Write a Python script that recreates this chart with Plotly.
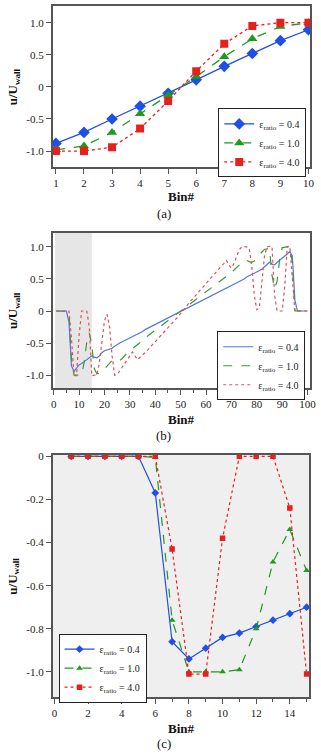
import plotly.graph_objects as go

W, H = 321, 755

# ---------------- data ----------------
bins_a = list(range(1, 11))
a_04 = [-0.88, -0.71, -0.50, -0.30, -0.10, 0.11, 0.32, 0.52, 0.72, 0.89]
a_10 = [-0.98, -0.92, -0.71, -0.42, -0.13, 0.16, 0.47, 0.75, 0.94, 1.0]
a_40 = [-1.0, -1.0, -0.94, -0.65, -0.22, 0.245, 0.67, 0.95, 1.0, 1.0]

bins_b = list(range(1, 101))
b_04 = [0, 0, 0, 0, 0, -0.17, -0.86, -0.94, -0.89, -0.84,
        -0.82, -0.79, -0.76, -0.73, -0.70, -0.72, -0.73, -0.70, -0.65, -0.62,
        -0.61, -0.60, -0.58, -0.55, -0.52, -0.50, -0.48, -0.46, -0.44, -0.42,
        -0.41, -0.39, -0.37, -0.35, -0.32, -0.29, -0.27, -0.25, -0.23, -0.21,
        -0.19, -0.17, -0.15, -0.13, -0.11, -0.09, -0.07, -0.05, -0.03, -0.01,
        0.01, 0.03, 0.05, 0.07, 0.09, 0.11, 0.13, 0.15, 0.17, 0.19,
        0.21, 0.23, 0.25, 0.27, 0.29, 0.32, 0.34, 0.36, 0.38, 0.40,
        0.42, 0.44, 0.46, 0.48, 0.50, 0.53, 0.55, 0.57, 0.59, 0.61,
        0.62, 0.65, 0.69, 0.72, 0.76, 0.73, 0.72, 0.76, 0.79, 0.82,
        0.85, 0.89, 0.93, 0.86, 0.17, 0, 0, 0, 0, 0]
b_10 = [0, 0, 0, 0, 0, -0.005, -0.76, -1.0, -1.0, -1.0,
        -0.99, -0.80, -0.49, -0.34, -0.53, -0.90, -0.98, -0.97, -0.94, -0.90,
        -0.86, -0.81, -0.77, -0.75, -0.76, -0.77, -0.74, -0.69, -0.65, -0.62,
        -0.59, -0.56, -0.53, -0.49, -0.46, -0.42, -0.39, -0.36, -0.33, -0.30,
        -0.27, -0.24, -0.21, -0.18, -0.15, -0.12, -0.09, -0.06, -0.03, -0.01,
        0.02, 0.05, 0.08, 0.11, 0.14, 0.17, 0.20, 0.23, 0.27, 0.30,
        0.33, 0.36, 0.39, 0.42, 0.45, 0.48, 0.51, 0.54, 0.57, 0.60,
        0.64, 0.68, 0.72, 0.75, 0.78, 0.79, 0.77, 0.76, 0.78, 0.82,
        0.87, 0.92, 0.96, 0.97, 0.97, 0.55, 0.35, 0.47, 0.80, 0.99,
        1.0, 1.0, 1.0, 0.76, 0.0, 0, 0, 0, 0, 0]
b_40 = [0, 0, 0, 0, 0, 0, -0.43, -1.01, -1.01, -0.38,
        0, 0, 0, -0.24, -1.01, -1.0, -1.0, -0.80, -0.45, -0.15,
        -0.05, -0.25, -0.70, -1.0, -0.99, -0.93, -0.87, -0.81, -0.76, -0.70,
        -0.64, -0.70, -0.76, -0.72, -0.69, -0.65, -0.61, -0.56, -0.52, -0.48,
        -0.43, -0.39, -0.35, -0.30, -0.26, -0.22, -0.17, -0.13, -0.09, -0.04,
        0.02, 0.07, 0.11, 0.16, 0.20, 0.25, 0.29, 0.34, 0.38, 0.43,
        0.47, 0.52, 0.56, 0.61, 0.65, 0.70, 0.74, 0.79, 0.72, 0.67,
        0.74, 0.86, 0.95, 1.0, 1.0, 1.0, 0.98, 0.70, 0.25, 0.02,
        0.05, 0.40, 0.85, 1.0, 1.01, 1.0, 0.24, 0.0, 0.0, 0.0,
        0.38, 1.01, 1.01, 0.43, 0, 0, 0, 0, 0, 0]

bins_c = list(range(1, 16))
c_04 = [0, 0, 0, 0, 0, -0.17, -0.86, -0.94, -0.89, -0.84, -0.82, -0.79, -0.76, -0.73, -0.70]
c_10 = [0, 0, 0, 0, 0, -0.005, -0.76, -1.0, -1.0, -1.0, -0.99, -0.80, -0.49, -0.34, -0.53]
c_40 = [0, 0, 0, 0, 0, 0, -0.43, -1.01, -1.01, -0.38, 0, 0, 0, -0.24, -1.01]

labels = ["ε<sub>ratio</sub> = 0.4", "ε<sub>ratio</sub> = 1.0", "ε<sub>ratio</sub> = 4.0"]

ticks_a_x = list(range(1, 11))
ticks_ab_y = [-1.0, -0.5, 0, 0.5, 1.0]
ticktext_ab_y = ["-1.0", "-0.5", "0", "0.5", "1.0"]
ticks_b_x = list(range(0, 101, 10))
ticks_c_x = list(range(0, 15, 2))
ticks_c_y = [0, -0.2, -0.4, -0.6, -0.8, -1.0]
ticktext_c_y = ["0", "-0.2", "-0.4", "-0.6", "-0.8", "-1.0"]

# ---------------- style ----------------
SERIF = "Liberation Serif, Times New Roman, serif"
BLUE, GREEN, RED = "#1f4fe6", "#1e9a1e", "#e8201c"
BLUE_L, GREEN_L, RED_L = "#5577dd", "#3a9a3a", "#e0505a"
FRAME = "#555555"


def px(x):
    return x / W


def py(y):
    return 1 - y / H


fig = go.Figure()

# (a)
for yv, col, sym, dash, name in [
    (a_04, BLUE, "diamond", "solid", labels[0]),
    (a_10, GREEN, "triangle-up", "dash", labels[1]),
    (a_40, RED, "square", "dot", labels[2]),
]:
    fig.add_trace(go.Scatter(x=bins_a, y=yv, mode="lines+markers", name=name,
                             line=dict(color=col, width=1.3, dash=dash),
                             marker=dict(symbol=sym, size=9 if sym != "square" else 8, color=col),
                             xaxis="x", yaxis="y", legend="legend"))
# (b)
for yv, col, dash, name in [
    (b_04, BLUE_L, "solid", labels[0]),
    (b_10, GREEN_L, "dash", labels[1]),
    (b_40, RED_L, "dot", labels[2]),
]:
    fig.add_trace(go.Scatter(x=bins_b, y=yv, mode="lines", name=name,
                             line=dict(color=col, width=1.2, dash=dash),
                             xaxis="x2", yaxis="y2", legend="legend2"))
# (c)
for yv, col, sym, dash, name in [
    (c_04, BLUE, "diamond", "solid", labels[0]),
    (c_10, GREEN, "triangle-up", "dash", labels[1]),
    (c_40, RED, "square", "dot", labels[2]),
]:
    fig.add_trace(go.Scatter(x=bins_c, y=yv, mode="lines+markers", name=name,
                             line=dict(color=col, width=1.2, dash=dash),
                             marker=dict(symbol=sym, size=6 if sym != "square" else 5.5, color=col),
                             xaxis="x3", yaxis="y3", legend="legend3"))

axis_common = dict(showline=True, mirror=True, linecolor=FRAME, linewidth=1.5,
                   showgrid=False, zeroline=False, ticks="outside", ticklen=5,
                   tickcolor=FRAME, tickwidth=1,
                   tickfont=dict(family=SERIF, size=11, color="#222"))

xdom = [px(52), px(316)]
fig.update_layout(
    width=W, height=H, margin=dict(l=0, r=0, t=0, b=0),
    paper_bgcolor="white", plot_bgcolor="rgba(0,0,0,0)",
    font=dict(family=SERIF, size=11, color="#222"),
    xaxis=dict(domain=xdom, range=[0.885, 10.06], tickvals=ticks_a_x, anchor="y", **axis_common),
    yaxis=dict(domain=[py(164), py(2)], range=[-1.25, 1.26], tickvals=ticks_ab_y,
               ticktext=ticktext_ab_y, anchor="x", **axis_common),
    xaxis2=dict(domain=xdom, range=[-0.4, 101], tickvals=ticks_b_x, anchor="y2",
                minor=dict(dtick=5, ticks="outside", ticklen=3, tickcolor=FRAME), **axis_common),
    yaxis2=dict(domain=[py(386), py(230)], range=[-1.2, 1.22], tickvals=ticks_ab_y,
                ticktext=ticktext_ab_y, anchor="x2", **axis_common),
    xaxis3=dict(domain=[px(52), px(315)], range=[-0.1, 15.15], tickvals=ticks_c_x, anchor="y3",
                minor=dict(dtick=1, ticks="outside", ticklen=3, tickcolor=FRAME), **axis_common),
    yaxis3=dict(domain=[py(697), py(453)], range=[-1.118, 0.008], tickvals=ticks_c_y,
                ticktext=ticktext_c_y, anchor="x3", **axis_common),
)

leg_common = dict(bgcolor="white", bordercolor="#222", borderwidth=1,
                  font=dict(family=SERIF, size=10, color="#222"),
                  yanchor="top", tracegroupgap=0, itemwidth=30)
fig.update_layout(
    legend=dict(x=px(312), y=py(105), xanchor="right", **leg_common),
    legend2=dict(x=px(311), y=py(329), xanchor="right", **leg_common),
    legend3=dict(x=px(58), y=py(633), xanchor="left", **leg_common),
)

# shaded regions
fig.add_shape(type="rect", xref="x2", yref="y2 domain", x0=0.5, x1=15, y0=0, y1=1,
              fillcolor="#e6e6e6", line_width=0, layer="below")
fig.add_shape(type="rect", xref="x3 domain", yref="y3 domain", x0=0, x1=1, y0=0, y1=1,
              fillcolor="#efefef", line_width=0, layer="below")

# annotations (axis titles and panel labels)
ann = []
for yc in [83, 308, 575]:
    ann.append(dict(text="<b>u/U<sub>wall</sub></b>", x=px(12), y=py(yc), xref="paper", yref="paper",
                    textangle=-90, showarrow=False, font=dict(family=SERIF, size=13, color="#111"),
                    xanchor="center", yanchor="middle"))
for yc in [194, 418, 728]:
    ann.append(dict(text="<b>Bin#</b>", x=px(184), y=py(yc), xref="paper", yref="paper",
                    showarrow=False, font=dict(family=SERIF, size=13, color="#111"),
                    xanchor="center", yanchor="middle"))
for txt, yc in [("(a)", 211), ("(b)", 434), ("(c)", 743)]:
    ann.append(dict(text=txt, x=px(166), y=py(yc), xref="paper", yref="paper",
                    showarrow=False, font=dict(family=SERIF, size=13, color="#111"),
                    xanchor="center", yanchor="middle"))
fig.update_layout(annotations=ann)

fig.write_html("out.html")
